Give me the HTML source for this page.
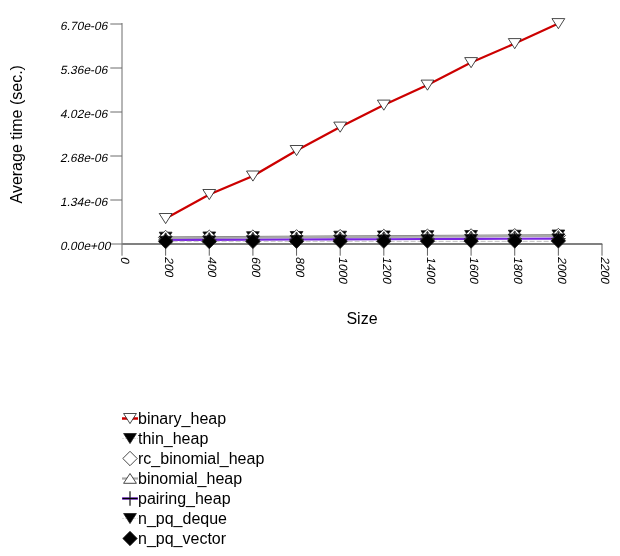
<!DOCTYPE html><html><head><meta charset="utf-8"><title>chart</title><style>html,body{margin:0;padding:0;background:#fff}svg{display:block}text{font-family:"Liberation Sans",sans-serif;fill:#000}</style></head><body>
<svg width="620" height="556" viewBox="0 0 620 556">
<rect width="620" height="556" fill="#fff"/>
<path d="M122 23 V255.7" stroke="#6c6c6c" stroke-width="1" fill="none"/>
<g stroke="#6c6c6c" stroke-width="1" fill="none">
<path d="M110.3 244.0 H122"/>
<path d="M110.3 200.0 H122"/>
<path d="M110.3 156.0 H122"/>
<path d="M110.3 112.0 H122"/>
<path d="M110.3 68.0 H122"/>
<path d="M110.3 24.0 H122"/>
</g>
<text transform="translate(60.1 249.9) skewX(-12)" font-size="12">0.00e+00</text>
<text transform="translate(60.1 205.9) skewX(-12)" font-size="12">1.34e-06</text>
<text transform="translate(60.1 161.9) skewX(-12)" font-size="12">2.68e-06</text>
<text transform="translate(60.1 117.9) skewX(-12)" font-size="12">4.02e-06</text>
<text transform="translate(60.1 73.9) skewX(-12)" font-size="12">5.36e-06</text>
<text transform="translate(60.1 29.9) skewX(-12)" font-size="12">6.70e-06</text>
<path d="M122 244.0 H602.3" stroke="#808080" stroke-width="2" fill="none"/>
<g stroke="#606060" stroke-width="1" fill="none">
<path d="M165.64 244.0 V255.7"/>
<path d="M209.27 244.0 V255.7"/>
<path d="M252.91 244.0 V255.7"/>
<path d="M296.55 244.0 V255.7"/>
<path d="M340.18 244.0 V255.7"/>
<path d="M383.82 244.0 V255.7"/>
<path d="M427.45 244.0 V255.7"/>
<path d="M471.09 244.0 V255.7"/>
<path d="M514.73 244.0 V255.7"/>
<path d="M558.36 244.0 V255.7"/>
<path d="M602.00 244.0 V255.7"/>
</g>
<text transform="translate(121.20 256.5) rotate(90) skewX(-12)" font-size="12">0</text>
<text transform="translate(164.84 256.5) rotate(90) skewX(-12)" font-size="12">200</text>
<text transform="translate(208.47 256.5) rotate(90) skewX(-12)" font-size="12">400</text>
<text transform="translate(252.11 256.5) rotate(90) skewX(-12)" font-size="12">600</text>
<text transform="translate(295.75 256.5) rotate(90) skewX(-12)" font-size="12">800</text>
<text transform="translate(339.38 256.5) rotate(90) skewX(-12)" font-size="12">1000</text>
<text transform="translate(383.02 256.5) rotate(90) skewX(-12)" font-size="12">1200</text>
<text transform="translate(426.65 256.5) rotate(90) skewX(-12)" font-size="12">1400</text>
<text transform="translate(470.29 256.5) rotate(90) skewX(-12)" font-size="12">1600</text>
<text transform="translate(513.93 256.5) rotate(90) skewX(-12)" font-size="12">1800</text>
<text transform="translate(557.56 256.5) rotate(90) skewX(-12)" font-size="12">2000</text>
<text transform="translate(601.20 256.5) rotate(90) skewX(-12)" font-size="12">2200</text>
<text x="362" y="323.7" font-size="16" text-anchor="middle">Size</text>
<text transform="translate(21.8 134.3) rotate(-90)" font-size="16" text-anchor="middle">Average time (sec.)</text>
<polyline points="165.64,218.50 209.27,194.50 252.91,176.00 296.55,150.50 340.18,127.10 383.82,105.10 427.45,85.10 471.09,62.60 514.73,43.60 558.36,23.60" stroke="#cc0000" stroke-width="2.2" fill="none" />
<path d="M159.24 213.50 H172.04 L165.64 223.60 Z" fill="#fff" stroke="#1a1a1a" stroke-width="0.8"/>
<path d="M202.87 189.50 H215.67 L209.27 199.60 Z" fill="#fff" stroke="#1a1a1a" stroke-width="0.8"/>
<path d="M246.51 171.00 H259.31 L252.91 181.10 Z" fill="#fff" stroke="#1a1a1a" stroke-width="0.8"/>
<path d="M290.15 145.50 H302.95 L296.55 155.60 Z" fill="#fff" stroke="#1a1a1a" stroke-width="0.8"/>
<path d="M333.78 122.10 H346.58 L340.18 132.20 Z" fill="#fff" stroke="#1a1a1a" stroke-width="0.8"/>
<path d="M377.42 100.10 H390.22 L383.82 110.20 Z" fill="#fff" stroke="#1a1a1a" stroke-width="0.8"/>
<path d="M421.05 80.10 H433.85 L427.45 90.20 Z" fill="#fff" stroke="#1a1a1a" stroke-width="0.8"/>
<path d="M464.69 57.60 H477.49 L471.09 67.70 Z" fill="#fff" stroke="#1a1a1a" stroke-width="0.8"/>
<path d="M508.33 38.60 H521.13 L514.73 48.70 Z" fill="#fff" stroke="#1a1a1a" stroke-width="0.8"/>
<path d="M551.96 18.60 H564.76 L558.36 28.70 Z" fill="#fff" stroke="#1a1a1a" stroke-width="0.8"/>
<polyline points="165.64,236.90 209.27,236.66 252.91,236.41 296.55,236.17 340.18,235.92 383.82,235.68 427.45,235.43 471.09,235.19 514.73,234.94 558.36,234.70" stroke="#787878" stroke-width="1.0" fill="none" />
<path d="M159.24 232.20 H172.04 L165.64 242.30 Z" fill="#000" stroke="#1a1a1a" stroke-width="0.8"/>
<path d="M202.87 231.96 H215.67 L209.27 242.06 Z" fill="#000" stroke="#1a1a1a" stroke-width="0.8"/>
<path d="M246.51 231.71 H259.31 L252.91 241.81 Z" fill="#000" stroke="#1a1a1a" stroke-width="0.8"/>
<path d="M290.15 231.47 H302.95 L296.55 241.57 Z" fill="#000" stroke="#1a1a1a" stroke-width="0.8"/>
<path d="M333.78 231.22 H346.58 L340.18 241.32 Z" fill="#000" stroke="#1a1a1a" stroke-width="0.8"/>
<path d="M377.42 230.98 H390.22 L383.82 241.08 Z" fill="#000" stroke="#1a1a1a" stroke-width="0.8"/>
<path d="M421.05 230.73 H433.85 L427.45 240.83 Z" fill="#000" stroke="#1a1a1a" stroke-width="0.8"/>
<path d="M464.69 230.49 H477.49 L471.09 240.59 Z" fill="#000" stroke="#1a1a1a" stroke-width="0.8"/>
<path d="M508.33 230.24 H521.13 L514.73 240.34 Z" fill="#000" stroke="#1a1a1a" stroke-width="0.8"/>
<path d="M551.96 230.00 H564.76 L558.36 240.10 Z" fill="#000" stroke="#1a1a1a" stroke-width="0.8"/>
<path d="M158.44 237.50 L165.64 230.30 L172.84 237.50 L165.64 244.70 Z" fill="#fff" stroke="#1a1a1a" stroke-width="0.8"/>
<path d="M202.07 237.28 L209.27 230.08 L216.47 237.28 L209.27 244.48 Z" fill="#fff" stroke="#1a1a1a" stroke-width="0.8"/>
<path d="M245.71 237.06 L252.91 229.86 L260.11 237.06 L252.91 244.26 Z" fill="#fff" stroke="#1a1a1a" stroke-width="0.8"/>
<path d="M289.35 236.83 L296.55 229.63 L303.75 236.83 L296.55 244.03 Z" fill="#fff" stroke="#1a1a1a" stroke-width="0.8"/>
<path d="M332.98 236.61 L340.18 229.41 L347.38 236.61 L340.18 243.81 Z" fill="#fff" stroke="#1a1a1a" stroke-width="0.8"/>
<path d="M376.62 236.39 L383.82 229.19 L391.02 236.39 L383.82 243.59 Z" fill="#fff" stroke="#1a1a1a" stroke-width="0.8"/>
<path d="M420.25 236.17 L427.45 228.97 L434.65 236.17 L427.45 243.37 Z" fill="#fff" stroke="#1a1a1a" stroke-width="0.8"/>
<path d="M463.89 235.94 L471.09 228.74 L478.29 235.94 L471.09 243.14 Z" fill="#fff" stroke="#1a1a1a" stroke-width="0.8"/>
<path d="M507.53 235.72 L514.73 228.52 L521.93 235.72 L514.73 242.92 Z" fill="#fff" stroke="#1a1a1a" stroke-width="0.8"/>
<path d="M551.16 235.50 L558.36 228.30 L565.56 235.50 L558.36 242.70 Z" fill="#fff" stroke="#1a1a1a" stroke-width="0.8"/>
<polyline points="165.64,238.20 209.27,237.93 252.91,237.67 296.55,237.40 340.18,237.13 383.82,236.87 427.45,236.60 471.09,236.33 514.73,236.07 558.36,235.80" stroke="#a8a8a8" stroke-width="2.2" fill="none" />
<path d="M159.24 242.80 H172.04 L165.64 233.00 Z" fill="#fff" stroke="#1a1a1a" stroke-width="0.8"/>
<path d="M202.87 242.53 H215.67 L209.27 232.73 Z" fill="#fff" stroke="#1a1a1a" stroke-width="0.8"/>
<path d="M246.51 242.27 H259.31 L252.91 232.47 Z" fill="#fff" stroke="#1a1a1a" stroke-width="0.8"/>
<path d="M290.15 242.00 H302.95 L296.55 232.20 Z" fill="#fff" stroke="#1a1a1a" stroke-width="0.8"/>
<path d="M333.78 241.73 H346.58 L340.18 231.93 Z" fill="#fff" stroke="#1a1a1a" stroke-width="0.8"/>
<path d="M377.42 241.47 H390.22 L383.82 231.67 Z" fill="#fff" stroke="#1a1a1a" stroke-width="0.8"/>
<path d="M421.05 241.20 H433.85 L427.45 231.40 Z" fill="#fff" stroke="#1a1a1a" stroke-width="0.8"/>
<path d="M464.69 240.93 H477.49 L471.09 231.13 Z" fill="#fff" stroke="#1a1a1a" stroke-width="0.8"/>
<path d="M508.33 240.67 H521.13 L514.73 230.87 Z" fill="#fff" stroke="#1a1a1a" stroke-width="0.8"/>
<path d="M551.96 240.40 H564.76 L558.36 230.60 Z" fill="#fff" stroke="#1a1a1a" stroke-width="0.8"/>
<polyline points="165.64,240.00 209.27,239.84 252.91,239.69 296.55,239.53 340.18,239.38 383.82,239.22 427.45,239.07 471.09,238.91 514.73,238.76 558.36,238.60" stroke="#7a24e2" stroke-width="2.1" fill="none" />
<path d="M165.64 232.80 V247.20 M158.44 240.00 H172.84" stroke="#333" stroke-width="1.4" fill="none"/>
<path d="M209.27 232.64 V247.04 M202.07 239.84 H216.47" stroke="#333" stroke-width="1.4" fill="none"/>
<path d="M252.91 232.49 V246.89 M245.71 239.69 H260.11" stroke="#333" stroke-width="1.4" fill="none"/>
<path d="M296.55 232.33 V246.73 M289.35 239.53 H303.75" stroke="#333" stroke-width="1.4" fill="none"/>
<path d="M340.18 232.18 V246.58 M332.98 239.38 H347.38" stroke="#333" stroke-width="1.4" fill="none"/>
<path d="M383.82 232.02 V246.42 M376.62 239.22 H391.02" stroke="#333" stroke-width="1.4" fill="none"/>
<path d="M427.45 231.87 V246.27 M420.25 239.07 H434.65" stroke="#333" stroke-width="1.4" fill="none"/>
<path d="M471.09 231.71 V246.11 M463.89 238.91 H478.29" stroke="#333" stroke-width="1.4" fill="none"/>
<path d="M514.73 231.56 V245.96 M507.53 238.76 H521.93" stroke="#333" stroke-width="1.4" fill="none"/>
<path d="M558.36 231.40 V245.80 M551.16 238.60 H565.56" stroke="#333" stroke-width="1.4" fill="none"/>
<polyline points="165.64,241.30 209.27,241.31 252.91,241.31 296.55,241.32 340.18,241.32 383.82,241.33 427.45,241.33 471.09,241.34 514.73,241.34 558.36,241.35" stroke="#b0b0b0" stroke-width="0.8" fill="none" stroke-dasharray="5 2"/>
<path d="M159.24 236.30 H172.04 L165.64 246.40 Z" fill="#000" stroke="#1a1a1a" stroke-width="0.8"/>
<path d="M202.87 236.03 H215.67 L209.27 246.13 Z" fill="#000" stroke="#1a1a1a" stroke-width="0.8"/>
<path d="M246.51 235.77 H259.31 L252.91 245.87 Z" fill="#000" stroke="#1a1a1a" stroke-width="0.8"/>
<path d="M290.15 235.50 H302.95 L296.55 245.60 Z" fill="#000" stroke="#1a1a1a" stroke-width="0.8"/>
<path d="M333.78 235.23 H346.58 L340.18 245.33 Z" fill="#000" stroke="#1a1a1a" stroke-width="0.8"/>
<path d="M377.42 234.97 H390.22 L383.82 245.07 Z" fill="#000" stroke="#1a1a1a" stroke-width="0.8"/>
<path d="M421.05 234.70 H433.85 L427.45 244.80 Z" fill="#000" stroke="#1a1a1a" stroke-width="0.8"/>
<path d="M464.69 234.43 H477.49 L471.09 244.53 Z" fill="#000" stroke="#1a1a1a" stroke-width="0.8"/>
<path d="M508.33 234.17 H521.13 L514.73 244.27 Z" fill="#000" stroke="#1a1a1a" stroke-width="0.8"/>
<path d="M551.96 233.90 H564.76 L558.36 244.00 Z" fill="#000" stroke="#1a1a1a" stroke-width="0.8"/>
<path d="M158.44 241.50 L165.64 234.30 L172.84 241.50 L165.64 248.70 Z" fill="#000" stroke="#1a1a1a" stroke-width="0.8"/>
<path d="M202.07 241.43 L209.27 234.23 L216.47 241.43 L209.27 248.63 Z" fill="#000" stroke="#1a1a1a" stroke-width="0.8"/>
<path d="M245.71 241.37 L252.91 234.17 L260.11 241.37 L252.91 248.57 Z" fill="#000" stroke="#1a1a1a" stroke-width="0.8"/>
<path d="M289.35 241.30 L296.55 234.10 L303.75 241.30 L296.55 248.50 Z" fill="#000" stroke="#1a1a1a" stroke-width="0.8"/>
<path d="M332.98 241.23 L340.18 234.03 L347.38 241.23 L340.18 248.43 Z" fill="#000" stroke="#1a1a1a" stroke-width="0.8"/>
<path d="M376.62 241.17 L383.82 233.97 L391.02 241.17 L383.82 248.37 Z" fill="#000" stroke="#1a1a1a" stroke-width="0.8"/>
<path d="M420.25 241.10 L427.45 233.90 L434.65 241.10 L427.45 248.30 Z" fill="#000" stroke="#1a1a1a" stroke-width="0.8"/>
<path d="M463.89 241.03 L471.09 233.83 L478.29 241.03 L471.09 248.23 Z" fill="#000" stroke="#1a1a1a" stroke-width="0.8"/>
<path d="M507.53 240.97 L514.73 233.77 L521.93 240.97 L514.73 248.17 Z" fill="#000" stroke="#1a1a1a" stroke-width="0.8"/>
<path d="M551.16 240.90 L558.36 233.70 L565.56 240.90 L558.36 248.10 Z" fill="#000" stroke="#1a1a1a" stroke-width="0.8"/>
<path d="M122 418.5 H138" stroke="#cc0000" stroke-width="2.5"/>
<path d="M123.60 413.50 H136.40 L130.00 423.60 Z" fill="#fff" stroke="#1a1a1a" stroke-width="0.8"/>
<text x="138" y="424.0" font-size="16">binary_heap</text>
<path d="M122 438.5 H138" stroke="#c8c8c8" stroke-width="0.6" stroke-dasharray="2 1"/>
<path d="M123.60 433.50 H136.40 L130.00 443.60 Z" fill="#000" stroke="#1a1a1a" stroke-width="0.8"/>
<text x="138" y="444.0" font-size="16">thin_heap</text>
<path d="M122.80 458.50 L130.00 451.30 L137.20 458.50 L130.00 465.70 Z" fill="#fff" stroke="#1a1a1a" stroke-width="0.8"/>
<text x="138" y="464.0" font-size="16">rc_binomial_heap</text>
<path d="M122 478.5 H138" stroke="#a8a8a8" stroke-width="2.2"/>
<path d="M123.60 483.30 H136.40 L130.00 473.50 Z" fill="#fff" stroke="#1a1a1a" stroke-width="0.8"/>
<text x="138" y="484.0" font-size="16">binomial_heap</text>
<path d="M122 498.5 H138" stroke="#7a24e2" stroke-width="2.4"/>
<path d="M130.00 491.30 V505.70 M122.80 498.50 H137.20" stroke="#333" stroke-width="1.4" fill="none"/>
<path d="M122.5 498.5 H137.5" stroke="#000" stroke-width="1"/>
<text x="138" y="504.0" font-size="16">pairing_heap</text>
<path d="M122 518.5 H138" stroke="#c8c8c8" stroke-width="0.6" stroke-dasharray="2 1"/>
<path d="M123.60 513.50 H136.40 L130.00 523.60 Z" fill="#000" stroke="#1a1a1a" stroke-width="0.8"/>
<text x="138" y="524.0" font-size="16">n_pq_deque</text>
<path d="M122.80 538.50 L130.00 531.30 L137.20 538.50 L130.00 545.70 Z" fill="#000" stroke="#1a1a1a" stroke-width="0.8"/>
<text x="138" y="544.0" font-size="16">n_pq_vector</text>
</svg></body></html>
